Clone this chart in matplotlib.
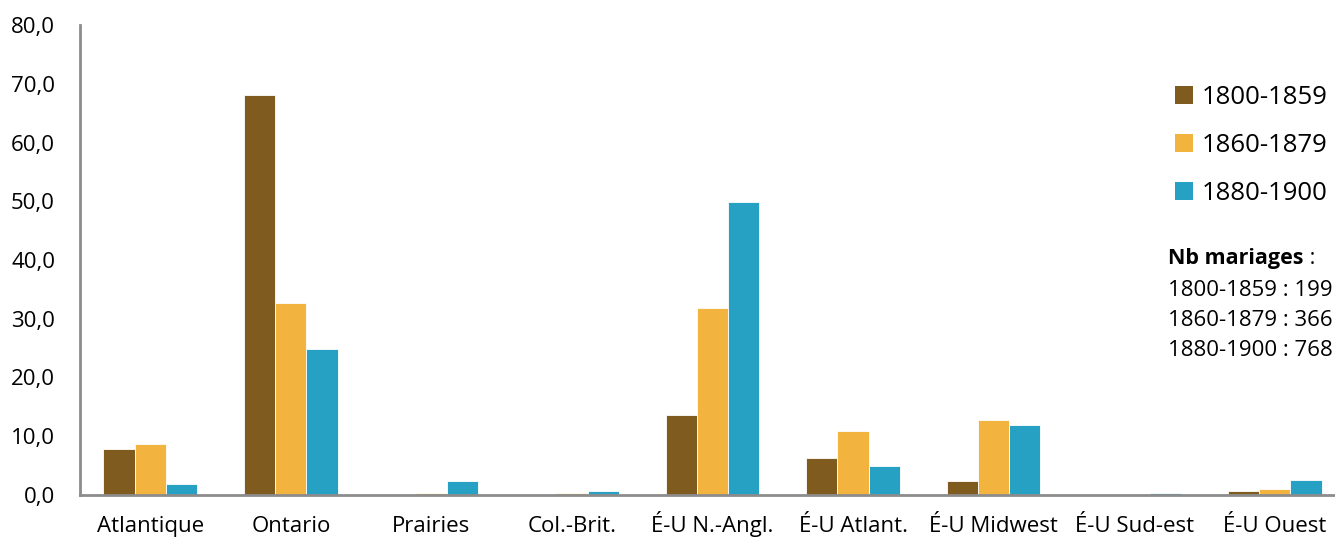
import matplotlib
matplotlib.use("Agg")
import matplotlib.pyplot as plt
import numpy as np
from matplotlib.patches import Patch

categories = ["Atlantique", "Ontario", "Prairies", "Col.-Brit.", "É-U N.-Angl.",
              "É-U Atlant.", "É-U Midwest", "É-U Sud-est", "É-U Ouest"]
series_names = ["1800-1859", "1860-1879", "1880-1900"]
v1800 = [7.9, 68.1, 0.0, 0.0, 13.6, 6.3, 2.3, 0.0, 0.6]
v1860 = [8.7, 32.7, 0.3, 0.3, 31.8, 10.9, 12.7, 0.0, 1.1]
v1880 = [1.9, 24.9, 2.3, 0.6, 49.9, 4.9, 11.9, 0.3, 2.5]
yticks = [0, 10, 20, 30, 40, 50, 60, 70, 80]
note_title = "Nb mariages"
note_lines = ["1800-1859 : 199", "1860-1879 : 366", "1880-1900 : 768"]

colors = ["#7F5B1F", "#F2B43E", "#27A1C3"]

W, H = 1335, 540
fig = plt.figure(figsize=(W / 100, H / 100), dpi=100)
fig.patch.set_facecolor("white")
ax = fig.add_axes([80 / W, 1 - 495 / H, 1265 / W, 470 / H])

x = np.arange(len(categories))
bw = 0.222
for i, (vals, c) in enumerate(zip([v1800, v1860, v1880], colors)):
    ax.bar(x + (i - 1) * bw, vals, width=bw, color=c, edgecolor="white", linewidth=0.6)

ax.set_xlim(-0.5, len(categories) - 0.5)
ax.set_ylim(0, 80)
ax.set_yticks(yticks)
ax.set_yticklabels([f"{t:.1f}".replace(".", ",") for t in yticks], fontsize=16, family="Open Sans")
ax.set_xticks(x)
ax.set_xticklabels(categories, fontsize=16, family="Open Sans")
for lbl in ax.get_xticklabels():
    lbl.set_verticalalignment("baseline")
ax.tick_params(axis="both", length=0)
ax.tick_params(axis="y", pad=18)
ax.tick_params(axis="x", pad=26.5)
for s in ["top", "right"]:
    ax.spines[s].set_visible(False)
for s in ["left", "bottom"]:
    ax.spines[s].set_color("#8C8C8C")
    ax.spines[s].set_linewidth(2)

handles = [Patch(facecolor=c, edgecolor="none") for c in colors]
fig.legend(handles, series_names, loc="upper left",
           bbox_to_anchor=(1162 / W, 1 - 72 / H), frameon=False,
           prop={"family": "Open Sans", "size": 18.5}, handlelength=0.7, handleheight=0.7,
           handletextpad=0.35, labelspacing=0.9, borderpad=0)

t = fig.text(1168 / W, 1 - 258 / H, note_title, fontsize=15.5, family="Open Sans",
             fontweight="bold", va="center", ha="left")
ax.annotate(" :", xy=(1, 0.5), xycoords=t, fontsize=15.5, family="Open Sans",
            va="center", ha="left", annotation_clip=False)
for k, line in enumerate(note_lines):
    fig.text(1168 / W, 1 - (290 + 30 * k) / H, line, fontsize=16, family="Open Sans",
             va="center", ha="left")

fig.savefig("out.png", dpi=100)
